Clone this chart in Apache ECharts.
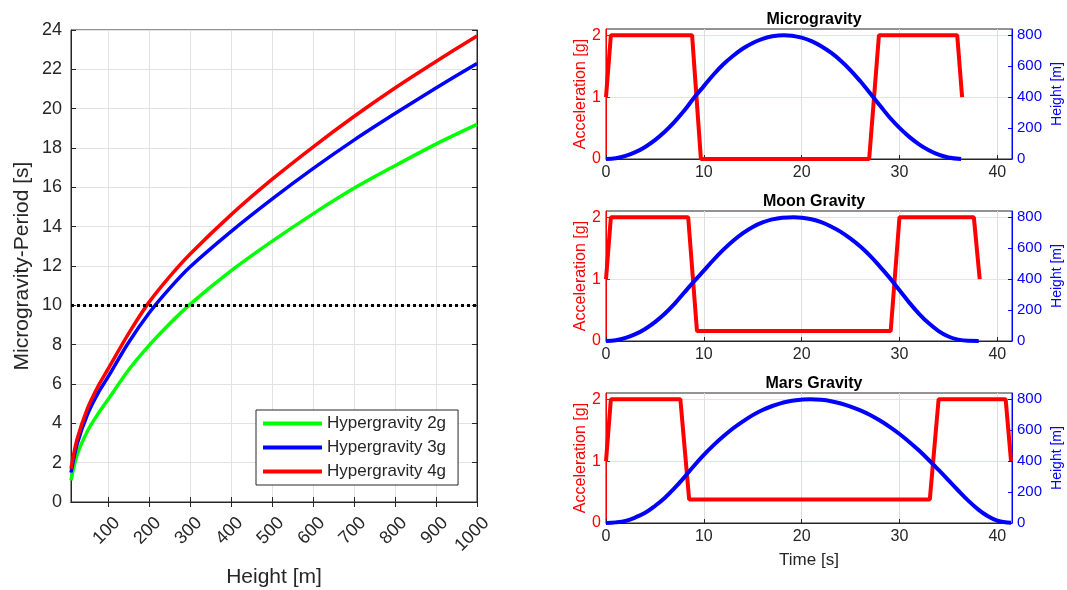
<!DOCTYPE html>
<html>
<head>
<meta charset="utf-8">
<title>Microgravity period and flight profiles</title>
<script src="https://cdn.jsdelivr.net/npm/echarts@6.0.0/dist/echarts.min.js"></script>
<style>
  html, body { margin: 0; padding: 0; background: #fff; }
  #chart { width: 1067px; height: 590px; }
</style>
</head>
<body>
<div id="chart"></div>
<script>
// left panel: microgravity period against climb height
const heights = [10, 25, 50, 75, 100, 150, 200, 250, 300, 400, 500, 600, 700, 800, 900, 1000];
const period2g = [1.1, 2.4, 3.6, 4.45, 5.2, 6.7, 7.95, 9.05, 10.05, 11.75, 13.25, 14.65, 15.95, 17.1, 18.2, 19.2];
const period3g = [1.5, 2.95, 4.45, 5.5, 6.35, 8.1, 9.6, 10.85, 11.95, 13.75, 15.4, 16.95, 18.4, 19.75, 21.05, 22.3];
const period4g = [1.7, 3.2, 4.75, 5.85, 6.75, 8.55, 10.15, 11.45, 12.6, 14.6, 16.4, 18.05, 19.6, 21.05, 22.4, 23.7];
const heightTicks = [100, 200, 300, 400, 500, 600, 700, 800, 900, 1000];
const targetPeriod = 10;

// right panels: acceleration [g] and height [m] over time [s]
const accTicks = [0, 1, 2];
const altTicks = [0, 200, 400, 600, 800];

const microAccT = [0, 0.5, 8.8, 9.7, 26.9, 27.9, 35.9, 36.4];
const microAcc = [1, 2, 2, 0, 0, 2, 2, 1];
const microT = [0, 1, 2, 3, 4, 5, 6, 7, 8, 9, 10, 11, 12, 13, 14, 15, 16, 17, 18.2, 19, 20, 21, 22, 23, 24, 25, 26, 27, 28, 29, 30, 31, 32, 33, 34, 35, 36.3];
const microH = [0, 5, 20, 44, 78, 122, 176, 240, 313, 396, 471, 546, 612, 667, 714, 750, 776, 793, 800, 797, 784, 762, 729, 687, 635, 573, 502, 425, 346, 268, 201, 143, 95, 57, 28, 10, 0];

const moonAccT = [0, 0.5, 8.4, 9.3, 29.1, 30.0, 37.6, 38.2];
const moonAcc = [1, 2, 2, 0.16, 0.16, 2, 2, 1];
const moonT = [0, 1, 2, 3, 4, 5, 6, 7, 8, 9, 10, 11, 12, 13, 14, 15, 16, 17, 18, 19.2, 20, 21, 22, 23, 24, 25, 26, 27, 28, 29, 30, 31, 32, 33, 34, 35, 36, 37, 38.1];
const moonH = [0, 5, 20, 44, 78, 122, 176, 240, 313, 385, 455, 525, 590, 648, 697, 737, 766, 786, 797, 800, 797, 787, 768, 740, 705, 661, 610, 550, 481, 408, 328, 248, 176, 114, 64, 29, 9, 1, 0];

const marsAccT = [0, 0.5, 7.6, 8.5, 33.1, 34.0, 40.85, 41.4];
const marsAcc = [1, 2, 2, 0.38, 0.38, 2, 2, 1];
const marsT = [0, 1, 2, 3, 4, 5, 6, 7, 8, 9, 10, 11, 12, 13, 14, 15, 16, 17, 18, 19, 20.9, 22, 23, 24, 25, 26, 27, 28, 29, 30, 31, 32, 33, 34, 35, 36, 37, 38, 39, 40, 41, 41.4];
const marsH = [0, 4, 14, 36, 66, 110, 162, 225, 295, 370, 440, 503, 560, 612, 657, 697, 730, 756, 776, 790, 800, 796, 787, 772, 752, 728, 698, 662, 621, 575, 524, 468, 407, 343, 277, 210, 146, 90, 45, 15, 3, 2];

const FONT = '"Liberation Sans", Arial, sans-serif';
const DARK = '#262626';
const RED = '#ff0000';
const BLUE = '#0000ff';
const GREEN = '#00ff00';

const pairs = (xs, ys) => xs.map((x, i) => [x, ys[i]]);

const chart = echarts.init(document.getElementById('chart'));

const grid = [
  { left: 71, top: 30, width: 406, height: 472, show: true, borderColor: DARK, borderWidth: 1, outerBoundsMode: 'none' },
];
const xAxis = [
  {
    gridIndex: 0, type: 'value', min: 10, max: 1000,
    name: 'Height [m]', nameLocation: 'middle', nameGap: 65,
    nameTextStyle: { fontFamily: FONT, fontSize: 21, color: DARK },
    axisLine: { lineStyle: { color: DARK } },
    axisTick: { inside: true, length: 5, lineStyle: { color: DARK }, customValues: heightTicks },
    axisLabel: {
      customValues: heightTicks, rotate: 45, margin: 9, verticalAlign: 'top', padding: [4, 0, 0, 0],
      fontFamily: FONT, fontSize: 18, color: DARK, formatter: (v) => String(v),
    },
    splitLine: { show: true, lineStyle: { color: '#e2e2e2' } },
  },
  {
    gridIndex: 0, type: 'value', min: 10, max: 1000, position: 'top',
    axisLine: { lineStyle: { color: DARK } },
    axisTick: { inside: true, length: 5, lineStyle: { color: DARK }, customValues: heightTicks },
    axisLabel: { show: false },
    splitLine: { show: false },
  },
];
const yAxis = [
  {
    gridIndex: 0, type: 'value', min: 0, max: 24, interval: 2,
    name: 'Microgravity-Period [s]', nameLocation: 'middle', nameGap: 38,
    nameTextStyle: { fontFamily: FONT, fontSize: 21, color: DARK },
    axisLine: { show: true, lineStyle: { color: DARK } },
    axisTick: { show: true, inside: true, length: 5, lineStyle: { color: DARK } },
    axisLabel: { margin: 9, fontFamily: FONT, fontSize: 18, color: DARK },
    splitLine: { show: true, lineStyle: { color: '#e2e2e2' } },
  },
  {
    gridIndex: 0, type: 'value', min: 0, max: 24, interval: 2, position: 'right',
    axisLine: { show: true, lineStyle: { color: DARK } },
    axisTick: { show: true, inside: true, length: 5, lineStyle: { color: DARK } },
    axisLabel: { show: false },
    splitLine: { show: false },
  },
];
const title = [];
const series = [
  {
    name: 'Hypergravity 2g', type: 'line', xAxisIndex: 0, yAxisIndex: 0,
    data: pairs(heights, period2g), smooth: 0.3, symbol: 'none',
    lineStyle: { color: GREEN, width: 3.5 }, itemStyle: { color: GREEN },
  },
  {
    name: 'Hypergravity 3g', type: 'line', xAxisIndex: 0, yAxisIndex: 0,
    data: pairs(heights, period3g), smooth: 0.3, symbol: 'none',
    lineStyle: { color: BLUE, width: 3.5 }, itemStyle: { color: BLUE },
  },
  {
    name: 'Hypergravity 4g', type: 'line', xAxisIndex: 0, yAxisIndex: 0,
    data: pairs(heights, period4g), smooth: 0.3, symbol: 'none',
    lineStyle: { color: RED, width: 3.5 }, itemStyle: { color: RED },
    markLine: {
      silent: true, symbol: 'none', label: { show: false },
      lineStyle: { color: '#000', type: [3, 3], width: 3 },
      data: [{ yAxis: targetPeriod }],
    },
  },
];

const panels = [
  { title: 'Microgravity', top: 29, accT: microAccT, acc: microAcc, t: microT, h: microH },
  { title: 'Moon Gravity', top: 211, accT: moonAccT, acc: moonAcc, t: moonT, h: moonH },
  { title: 'Mars Gravity', top: 393, accT: marsAccT, acc: marsAcc, t: marsT, h: marsH },
];

panels.forEach((p, i) => {
  const g = i + 1;
  const xi = xAxis.length;
  const yi = yAxis.length;
  grid.push({ left: 606, top: p.top, width: 406, height: 130, show: true, borderColor: DARK, borderWidth: 1, outerBoundsMode: 'none' });
  title.push({
    text: p.title, left: 809, top: p.top - 22, textAlign: 'center',
    textStyle: { fontFamily: FONT, fontSize: 16, fontWeight: 'bold', color: '#000' },
  });
  xAxis.push({
    gridIndex: g, type: 'value', min: 0, max: 41.5, interval: 10,
    name: i === 2 ? 'Time [s]' : '', nameLocation: 'middle', nameGap: 29,
    nameTextStyle: { fontFamily: FONT, fontSize: 17, color: DARK },
    axisLine: { lineStyle: { color: DARK } },
    axisTick: { inside: true, length: 4, lineStyle: { color: DARK } },
    axisLabel: { margin: 6, fontFamily: FONT, fontSize: 16, color: DARK, showMaxLabel: false },
    splitLine: { show: true, lineStyle: { color: '#dedede' } },
  });
  yAxis.push({
    gridIndex: g, type: 'value', min: 0, max: 2.1, position: 'left',
    name: 'Acceleration [g]', nameLocation: 'middle', nameGap: 16,
    nameTextStyle: { fontFamily: FONT, fontSize: 16, color: RED },
    axisLine: { show: true, lineStyle: { color: RED } },
    axisTick: { show: true, inside: true, length: 4, lineStyle: { color: RED }, customValues: accTicks },
    axisLabel: { customValues: accTicks, margin: 5, fontFamily: FONT, fontSize: 16, color: RED },
    splitLine: { show: true, lineStyle: { color: '#ffd9d9' } },
  });
  yAxis.push({
    gridIndex: g, type: 'value', min: 0, max: 840, position: 'right',
    name: 'Height [m]', nameLocation: 'middle', nameGap: 38,
    nameTextStyle: { fontFamily: FONT, fontSize: 14, color: BLUE },
    axisLine: { show: true, lineStyle: { color: BLUE } },
    axisTick: { show: true, inside: true, length: 4, lineStyle: { color: BLUE }, customValues: altTicks },
    axisLabel: { customValues: altTicks, margin: 5, fontFamily: FONT, fontSize: 15, color: BLUE },
    splitLine: { show: false },
  });
  series.push({
    type: 'line', xAxisIndex: xi, yAxisIndex: yi,
    data: pairs(p.accT, p.acc), symbol: 'none',
    lineStyle: { color: RED, width: 4 },
  });
  series.push({
    type: 'line', xAxisIndex: xi, yAxisIndex: yi + 1,
    data: pairs(p.t, p.h), smooth: 0.4, symbol: 'none',
    lineStyle: { color: BLUE, width: 4 },
  });
});

chart.setOption({
  animation: false,
  textStyle: { fontFamily: FONT },
  title,
  legend: {
    data: ['Hypergravity 2g', 'Hypergravity 3g', 'Hypergravity 4g'],
    icon: 'rect',
    orient: 'vertical', left: 256, top: 410,
    itemWidth: 59, itemHeight: 4, itemGap: 7,
    padding: [5, 12, 5, 7],
    backgroundColor: '#fff', borderColor: DARK, borderWidth: 1, borderRadius: 0,
    textStyle: { fontFamily: FONT, fontSize: 17, color: DARK, lineHeight: 17 },
  },
  grid,
  xAxis,
  yAxis,
  series,
});

window.addEventListener('resize', () => chart.resize());
</script>
</body>
</html>
